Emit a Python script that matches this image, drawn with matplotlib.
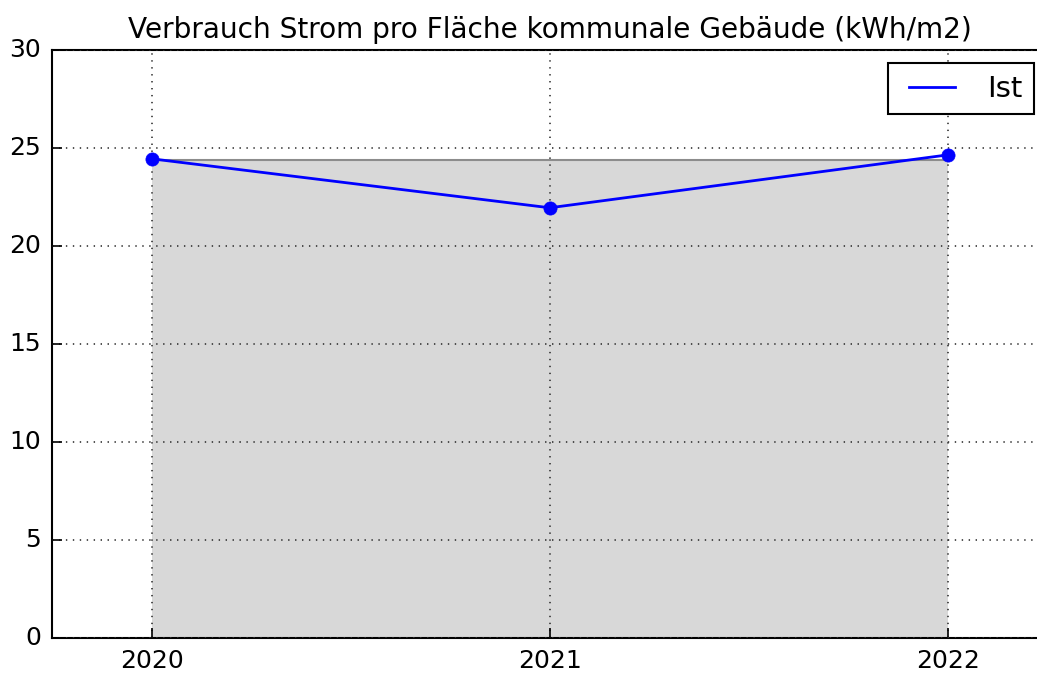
import matplotlib
matplotlib.use("Agg")
import matplotlib.pyplot as plt

years = [2020, 2021, 2022]
ist = [24.45, 21.95, 24.65]
baseline = [24.4, 24.4, 24.4]
tick_labels = ["2020", "2021", "2022"]

plt.style.use("classic")
fig = plt.figure(figsize=(10.37, 6.74), dpi=100, facecolor="white")
W, H = 1037, 674
left, right, top, bottom = 52, 1047.5, 50, 638
ax = fig.add_axes([left / W, (H - bottom) / H, (right - left) / W, (bottom - top) / H])
ax.set_facecolor("white")

ax.fill_between(years, 0, baseline, facecolor="#d8d8d8", edgecolor="none", linewidth=0, zorder=1)
ax.plot(years, baseline, color="#8c8c8c", linewidth=1.5, zorder=2)
ax.plot(years, ist, color="blue", linewidth=2.0, label="Ist", zorder=3)
ax.plot(years, ist, linestyle="none", marker="o", markersize=9.5, color="blue",
        markeredgecolor="blue", zorder=4)

ax.set_xlim(2019.75, 2022.25)
ax.set_ylim(0, 30)
ax.set_xticks(years)
ax.set_xticklabels(tick_labels)
ax.set_yticks([0, 5, 10, 15, 20, 25, 30])
ax.tick_params(labelsize=18, direction="in", length=7, width=1.2, top=False, right=False, pad=8)
ax.grid(True, color="#333333", linestyle=(0, (1, 4)), linewidth=1.2)
for s in ax.spines.values():
    s.set_linewidth(1.5)
ax.set_title("Verbrauch Strom pro Fläche kommunale Gebäude (kWh/m2)", fontsize=20.2, pad=9)
leg = ax.legend(loc="upper right", fontsize=21, handlelength=2.2, borderaxespad=0.45)
leg.get_frame().set_linewidth(1.5)

fig.savefig("out.png", dpi=100, facecolor="white")
